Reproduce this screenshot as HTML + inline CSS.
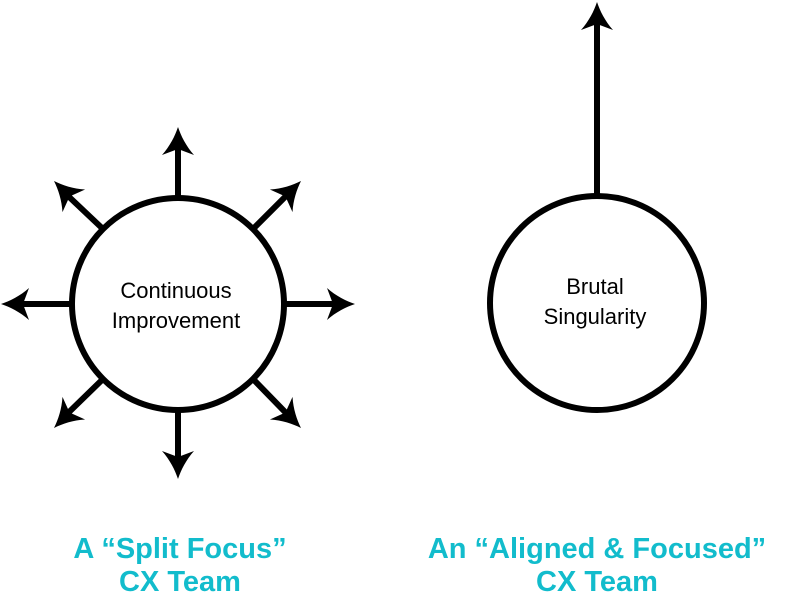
<!DOCTYPE html>
<html><head><meta charset="utf-8"><style>
html,body{margin:0;padding:0;background:#fff;}
svg{display:block;}
</style></head><body>
<svg width="794" height="616" viewBox="0 0 794 616" xmlns="http://www.w3.org/2000/svg">
<defs>
<path id="ah" d="M0,0 C3,9 8,19 16,28 L0,22 L-16,28 C-8,19 -3,9 0,0Z" fill="#000"/>
</defs>
<g stroke="#000" stroke-width="6" fill="none">
<circle cx="178" cy="304" r="106" fill="#fff"/>
<circle cx="597" cy="303" r="107" fill="#fff"/>
<line x1="178" y1="198" x2="178" y2="145"/>
<line x1="178" y1="410" x2="178" y2="460"/>
<line x1="72" y1="304" x2="20" y2="304"/>
<line x1="284" y1="304" x2="337" y2="304"/>
<line x1="253" y1="229" x2="288" y2="194"/>
<line x1="103" y1="229" x2="66" y2="194"/>
<line x1="253" y1="379" x2="288" y2="415"/>
<line x1="103" y1="379" x2="66" y2="415"/>
<line x1="597" y1="196" x2="597" y2="20"/>
</g>
<use href="#ah" transform="translate(178,127)"/>
<use href="#ah" transform="translate(178,479) rotate(180)"/>
<use href="#ah" transform="translate(1,304) rotate(-90)"/>
<use href="#ah" transform="translate(355,304) rotate(90)"/>
<use href="#ah" transform="translate(301,181) rotate(45)"/>
<use href="#ah" transform="translate(54,181) rotate(-45)"/>
<use href="#ah" transform="translate(301,428) rotate(135)"/>
<use href="#ah" transform="translate(54,428) rotate(-135)"/>
<use href="#ah" transform="translate(597,2)"/>
<g font-family="Liberation Sans, sans-serif" font-size="22" fill="#000" text-anchor="middle">
<text x="176" y="298">Continuous</text>
<text x="176" y="328">Improvement</text>
<text x="595" y="294">Brutal</text>
<text x="595" y="324">Singularity</text>
</g>
<g font-family="Liberation Sans, sans-serif" font-size="29" font-weight="bold" fill="#12bccc" text-anchor="middle">
<text x="180" y="558">A “Split Focus”</text>
<text x="180" y="591">CX Team</text>
<text x="597" y="558">An “Aligned &amp; Focused”</text>
<text x="597" y="591">CX Team</text>
</g>
</svg>
</body></html>
